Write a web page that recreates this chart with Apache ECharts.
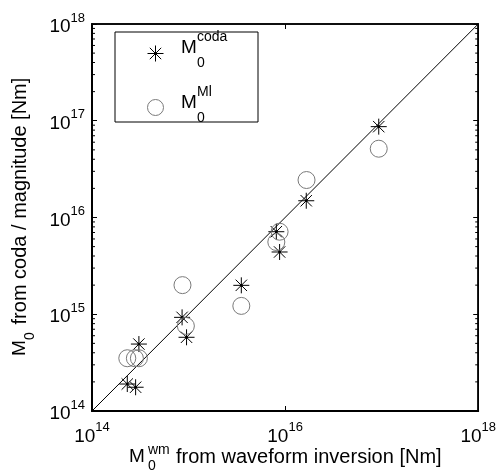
<!DOCTYPE html>
<html><head><meta charset="utf-8">
<script src="https://cdn.jsdelivr.net/npm/echarts@6/dist/echarts.min.js"></script>
<style>html,body{margin:0;padding:0;background:#fff}#c{width:499px;height:472px}</style>
</head><body><div id="c"></div>
<script>
// Data (moment in Nm)
const codaX = [9.33e16, 1.656e16, 8.11e15, 8.77e15, 3.52e15, 8.57e14, 9.53e14, 3.06e14, 2.32e14, 2.83e14];
const codaY = [8.69e16, 1.49e16, 7.13e15, 4.40e15, 1.99e15, 9.29e14, 5.78e14, 4.92e14, 1.90e14, 1.76e14];
const mlX = [9.33e16, 1.667e16, 8.77e15, 8.11e15, 3.52e15, 8.65e14, 9.38e14, 2.32e14, 2.78e14, 3.06e14];
const mlY = [5.14e16, 2.44e16, 7.13e15, 5.58e15, 1.22e15, 2.00e15, 7.57e14, 3.51e14, 3.51e14, 3.51e14];
const lineX = [1e14, 1e18];
const lineY = [1e14, 1e18];
const minorMults = [2, 3, 4, 5, 6, 7, 8, 9];
const minorDecades = [14, 15, 16, 17];

const FONT = "'Liberation Sans', Arial, Helvetica, sans-serif";
const minorTicks = [];
minorDecades.forEach(d => minorMults.forEach(m => minorTicks.push([1e14, m * Math.pow(10, d)])));

const expOf = v => Math.round(Math.log10(v));
const rich = {
  b: {fontSize: 19, fontFamily: FONT, color: '#000', verticalAlign: 'bottom'},
  s: {fontSize: 13, fontFamily: FONT, color: '#000', verticalAlign: 'top', padding: [0, 0, 12, 0]}
};
const labelFmt = v => '{b|10}{s|' + expOf(v) + '}';

const chart = echarts.init(document.getElementById('c'), null, {renderer: 'canvas'});
const starPath = 'path://M8,0L8,16M0,8L16,8M2.3,2.3L13.7,13.7M2.3,13.7L13.7,2.3M7.2,7.2L8.8,7.2L8.8,8.8L7.2,8.8Z';

chart.setOption({
  animation: false,
  backgroundColor: '#fff',
  grid: {left: 92, top: 24, width: 387, height: 387, show: true, borderColor: '#000', borderWidth: 1.5, backgroundColor: 'transparent'},
  xAxis: [{
    type: 'log', logBase: 10, min: 1e14, max: 1e18, interval: 2, position: 'bottom',
    axisLine: {show: true, lineStyle: {color: '#000', width: 2}},
    axisTick: {show: true, inside: true, length: 5, lineStyle: {color: '#000', width: 1}},
    axisLabel: {show: true, formatter: labelFmt, rich: rich, margin: 10},
    splitLine: {show: false}
  }, {
    type: 'log', logBase: 10, min: 1e14, max: 1e18, interval: 2, position: 'top',
    axisLine: {show: true, lineStyle: {color: '#000', width: 1.5}},
    axisTick: {show: true, inside: true, length: 5, lineStyle: {color: '#000', width: 1}},
    axisLabel: {show: false}, splitLine: {show: false}
  }],
  yAxis: [{
    type: 'log', logBase: 10, min: 1e14, max: 1e18, interval: 1, position: 'left',
    axisLine: {show: true, lineStyle: {color: '#000', width: 2}},
    axisTick: {show: true, inside: true, length: 5, lineStyle: {color: '#000', width: 1}},
    axisLabel: {show: true, formatter: labelFmt, rich: rich, margin: 7},
    splitLine: {show: false}
  }, {
    type: 'log', logBase: 10, min: 1e14, max: 1e18, interval: 1, position: 'right',
    axisLine: {show: true, lineStyle: {color: '#000', width: 1.5}},
    axisTick: {show: true, inside: true, length: 5, lineStyle: {color: '#000', width: 1}},
    axisLabel: {show: false}, splitLine: {show: false}
  }],
  legend: {
    data: ['coda', 'Ml'],
    orient: 'vertical', left: 115, top: 32,
    padding: [13, 94, 6, 32],
    itemGap: 37, itemWidth: 16, itemHeight: 16,
    borderColor: '#000', borderWidth: 1, backgroundColor: '#fff',
    itemStyle: {borderWidth: 1},
    formatter: () => '',
    textStyle: {fontSize: 1},
    z: 3
  },
  series: [{
    type: 'line', name: 'diag', data: lineX.map((x, i) => [x, lineY[i]]),
    symbol: 'none', lineStyle: {color: '#000', width: 1}, z: 2, silent: true
  }, {
    type: 'scatter', name: 'coda', data: codaX.map((x, i) => [x, codaY[i]]),
    symbol: starPath, symbolSize: 16,
    itemStyle: {color: '#000', borderColor: '#000', borderWidth: 1, opacity: 1}, z: 3
  }, {
    type: 'scatter', name: 'Ml', data: mlX.map((x, i) => [x, mlY[i]]),
    symbol: 'circle', symbolSize: 17,
    itemStyle: {color: 'rgba(0,0,0,0)', borderColor: '#7a7a7a', borderWidth: 1, opacity: 1}, z: 4
  }, {
    type: 'custom', name: 'minor', data: minorTicks, silent: true, z: 5,
    renderItem: (params, api) => {
      const v = api.value(1);
      const l = api.coord([1e14, v]);
      const r = api.coord([1e18, v]);
      return {type: 'group', children: [
        {type: 'line', shape: {x1: l[0], y1: l[1], x2: l[0] + 3, y2: l[1]}, style: {stroke: '#000', lineWidth: 1}},
        {type: 'line', shape: {x1: r[0], y1: r[1], x2: r[0] - 3, y2: r[1]}, style: {stroke: '#000', lineWidth: 1}}
      ]};
    }
  }],
  graphic: [
    // legend labels
    {type: 'text', z: 100, left: 181, top: 38, style: {text: 'M', font: '19px ' + FONT, fill: '#000'}},
    {type: 'text', z: 100, left: 197, top: 30, style: {text: 'coda', font: '14px ' + FONT, fill: '#000'}},
    {type: 'text', z: 100, left: 197, top: 56, style: {text: '0', font: '14px ' + FONT, fill: '#000'}},
    {type: 'text', z: 100, left: 181, top: 93, style: {text: 'M', font: '19px ' + FONT, fill: '#000'}},
    {type: 'text', z: 100, left: 197, top: 85, style: {text: 'Ml', font: '14px ' + FONT, fill: '#000'}},
    {type: 'text', z: 100, left: 197, top: 111, style: {text: '0', font: '14px ' + FONT, fill: '#000'}},
    // x title
    {type: 'text', z: 100, left: 129, top: 447, style: {text: 'M', font: '19px ' + FONT, fill: '#000'}},
    {type: 'text', z: 100, left: 148, top: 443, style: {text: 'wm', font: '14px ' + FONT, fill: '#000'}},
    {type: 'text', z: 100, left: 148, top: 459, style: {text: '0', font: '14px ' + FONT, fill: '#000'}},
    {type: 'text', z: 100, left: 176, top: 447, style: {text: 'from waveform inversion [Nm]', font: '20px ' + FONT, fill: '#000'}},
    // y title (rotated)
    {type: 'group', z: 100, x: 10, y: 356, rotation: Math.PI / 2, children: [
      {type: 'text', x: 0, y: 0, style: {text: 'M', font: '19px ' + FONT, fill: '#000'}},
      {type: 'text', x: 16, y: 13, style: {text: '0', font: '14px ' + FONT, fill: '#000'}},
      {type: 'text', x: 26, y: 0, style: {text: ' from coda / magnitude [Nm]', font: '20px ' + FONT, fill: '#000'}}
    ]}
  ]
});
</script></body></html>
